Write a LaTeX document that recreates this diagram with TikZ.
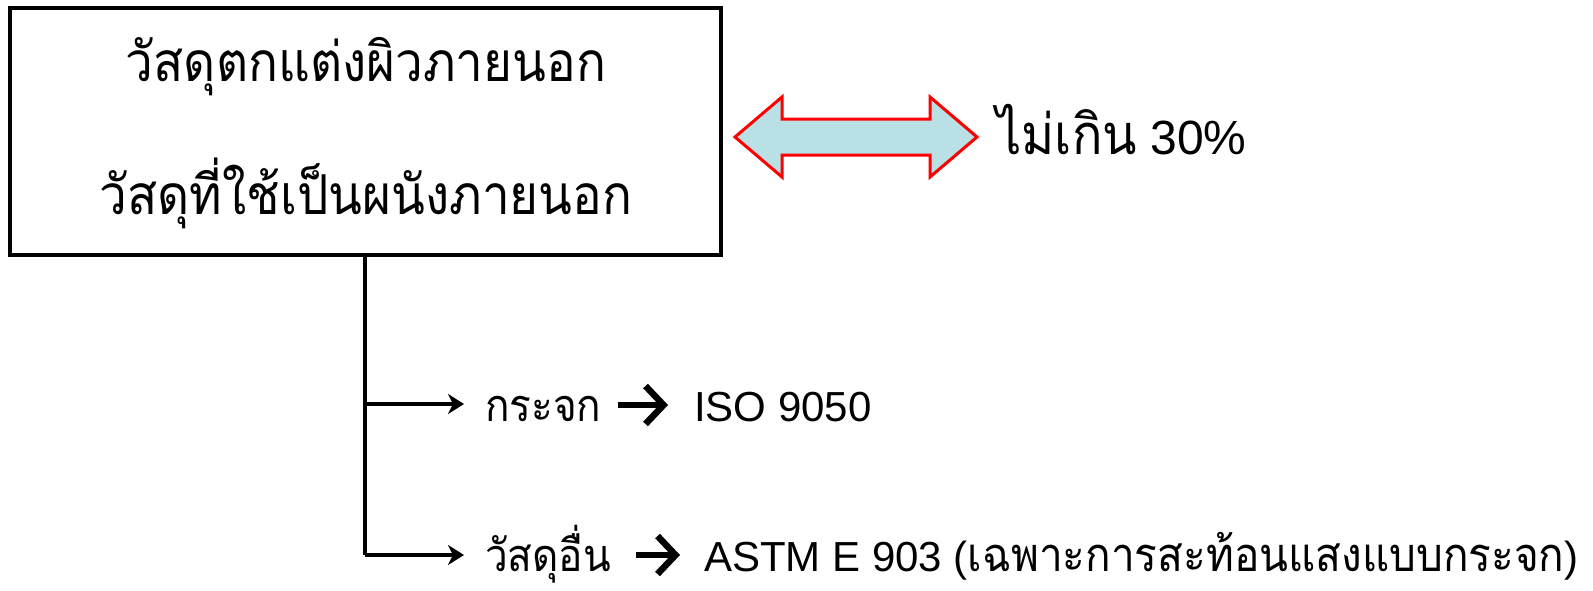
\documentclass[tikz,border=0pt]{standalone}
\usepackage{fontspec}
\setmainfont{Liberation Sans}
\newfontfamily\thai[Script=Thai,FakeStretch=0.9]{Loma}
\usetikzlibrary{arrows.meta}
\definecolor{arrowfill}{HTML}{B9E0E4}
\begin{document}
\begin{tikzpicture}[x=1pt,y=-1pt,
  boxstyle/.style={draw, line width=4pt, minimum width=711pt, minimum height=247pt, inner sep=0pt},
  boxtext/.style={font=\thai\fontsize{55}{60}\selectfont, inner sep=0pt, anchor=base},
  lbl/.style={inner sep=0pt, anchor=base west, font=\fontsize{42}{48}\selectfont},
  thaismall/.style={font=\thai\fontsize{45}{50}\selectfont},
  thinarrow/.style={line width=3.2pt, -{Stealth[length=16pt,width=20pt,inset=5pt]}},
  boldarrow/.style={line width=6.5pt, -{Straight Barb[length=18pt 0,width=38pt 0]}},
]
\useasboundingbox (0,0) rectangle (1593,590);
\node[boxstyle] (box) at (365.5,131.5) {};
\node[boxtext] (t1) at (366,81) {วัสดุตกแต่งผิวภายนอก};
\node[boxtext] (t2) at (366,214) {วัสดุที่ใช้เป็นผนังภายนอก};
% double arrow
\draw[red, line width=3pt, fill=arrowfill, line join=miter]
  (735,137) -- (782,97) -- (782,119) -- (930,119) -- (930,97) -- (977,137)
  -- (930,177) -- (930,155) -- (782,155) -- (782,177) -- cycle;
\node[lbl, font=\fontsize{48}{54}\selectfont] (lim) at (996,154.5) {{\thai\fontsize{56}{60}\selectfont ไม่เกิน} 30\%};
% branches
\coordinate (j1) at (365,404);
\coordinate (j2) at (365,555);
\node[lbl, thaismall] (g1) at (485,421) {กระจก};
\node[lbl] (iso) at (694,421) {ISO 9050};
\node[lbl, thaismall] (g2) at (485,571) {วัสดุอื่น};
\node[lbl] (astm) at (704,571) {ASTM E 903 ({\thai\fontsize{47}{50}\selectfont เฉพาะการสะท้อนแสงแบบกระจก})};
\draw[line width=3.2pt] (box.south -| j1) -- (j2);
\draw[thinarrow, shorten >=21pt] (j1) -- (j1 -| g1.west);
\draw[thinarrow, shorten >=21pt] (j2) -- (j2 -| g2.west);
\draw[boldarrow] ([shift={(16,-16)}]g1.base east) -- ([shift={(-26,-16)}]iso.base west);
\draw[boldarrow] ([shift={(25,-16)}]g2.base east) -- ([shift={(-24,-16)}]astm.base west);
\end{tikzpicture}
\end{document}
